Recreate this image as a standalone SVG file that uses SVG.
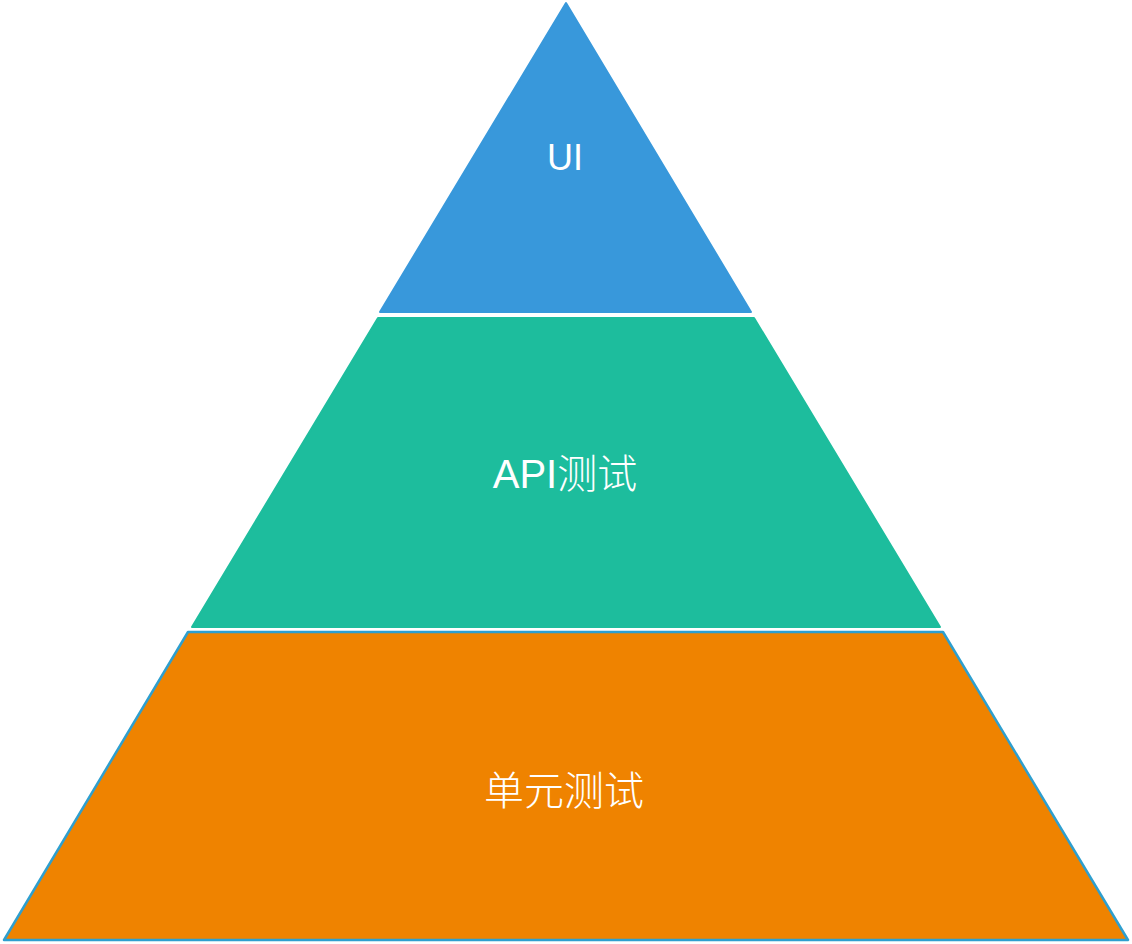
<svg xmlns="http://www.w3.org/2000/svg" width="1132" height="944" viewBox="0 0 1132 944">
<style>
.lbl{fill:#ffffff;font-family:"Liberation Sans","Noto Sans CJK SC",sans-serif;font-size:36px;text-anchor:middle}
.big{font-size:40px}
.cjk{font-family:"Noto Sans CJK SC","Liberation Serif",serif;font-weight:300}
.tier{stroke-linejoin:round}
</style>
<rect width="1132" height="944" fill="#ffffff"/>
<g id="ui">
<polygon class="tier" points="566,3 751,312 380,312" fill="#3898DB" stroke="#3898DB" stroke-width="2"/>
<text class="lbl" x="565" y="170">UI</text>
</g>
<g id="api">
<polygon class="tier" points="378,318 754,318 940,627 192,627" fill="#1DBD9D" stroke="#1DBD9D" stroke-width="2"/>
<text class="lbl big" x="565" y="488">API<tspan class="cjk">测试</tspan></text>
</g>
<g id="unit">
<polygon class="tier" points="188,632 943,632 1128,940 4,940" fill="#EF8300" stroke="#2E9FCF" stroke-width="2.5"/>
<text class="lbl big cjk" x="564" y="805">单元测试</text>
</g>
<g id="connectors"></g>
</svg>
